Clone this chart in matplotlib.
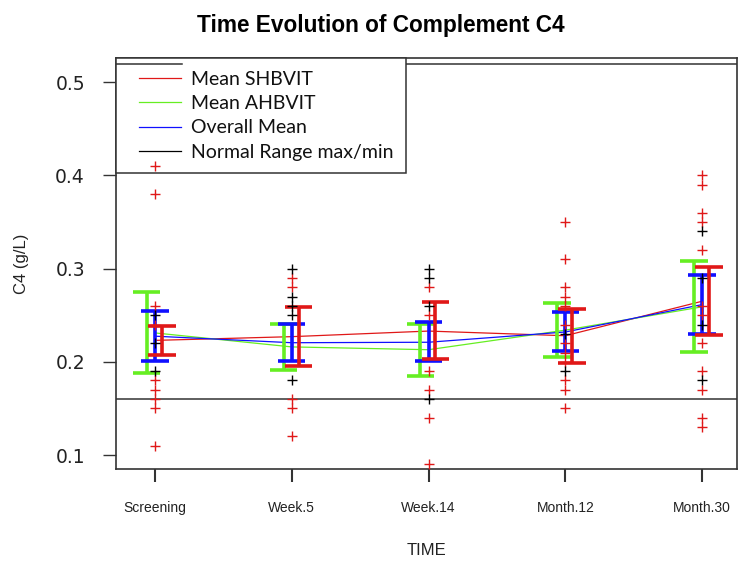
import matplotlib
matplotlib.use("Agg")
import numpy as np
import matplotlib.pyplot as plt
from matplotlib.lines import Line2D
from matplotlib.legend_handler import HandlerLine2D

# ---- data ----
times = ["Screening", "Week.5", "Week.14", "Month.12", "Month.30"]

mean_shbvit = [0.223, 0.227, 0.233, 0.228, 0.265]
mean_ahbvit = [0.231, 0.216, 0.213, 0.234, 0.259]
mean_overall = [0.2275, 0.2205, 0.221, 0.232, 0.2614]

shb_low = [0.2076, 0.1955, 0.2033, 0.1984, 0.2284]
shb_high = [0.2387, 0.2585, 0.2645, 0.2570, 0.3020]
ahb_low = [0.1877, 0.1909, 0.1851, 0.2048, 0.2105]
ahb_high = [0.2750, 0.2409, 0.2406, 0.2630, 0.3078]
all_low = [0.2009, 0.2009, 0.2012, 0.2116, 0.2298]
all_high = [0.2540, 0.2402, 0.2427, 0.2530, 0.2930]

normal_max = 0.52
normal_min = 0.16

red_pts = [
    [0.41, 0.38, 0.26, 0.24, 0.18, 0.17, 0.16, 0.15, 0.11],
    [0.29, 0.28, 0.16, 0.15, 0.12],
    [0.28, 0.25, 0.19, 0.17, 0.14, 0.09],
    [0.35, 0.31, 0.28, 0.27, 0.26, 0.24, 0.22, 0.21, 0.20, 0.18, 0.17, 0.15],
    [0.40, 0.39, 0.36, 0.35, 0.32, 0.26, 0.25, 0.22, 0.19, 0.17, 0.14, 0.13],
]
black_pts = [
    [0.25, 0.22, 0.19],
    [0.30, 0.27, 0.26, 0.25, 0.18],
    [0.30, 0.29, 0.26, 0.16],
    [0.23, 0.19],
    [0.34, 0.29, 0.24, 0.18],
]

yticks = [0.1, 0.2, 0.3, 0.4, 0.5]

# ---- style ----
RED = "#e01818"
GREEN = "#66ee22"
BLUE = "#1010ff"
font = "Liberation Sans"

fig = plt.figure(figsize=(7.49, 5.62), dpi=100)
ax = fig.add_axes([116 / 749, 1 - 469 / 562, (737 - 116) / 749, (469 - 58) / 562])

x = list(range(1, len(times) + 1))

# points
for i, xi in enumerate(x):
    ax.plot([xi] * len(red_pts[i]), red_pts[i], ls="none", marker="+",
            ms=7, mew=1.0, color=RED, zorder=7)
    ax.plot([xi] * len(black_pts[i]), black_pts[i], ls="none", marker="+",
            ms=7, mew=1.0, color="black", zorder=7)

# mean lines
ax.plot(x, mean_shbvit, color=RED, lw=0.9, zorder=2)
ax.plot(x, mean_ahbvit, color=GREEN, lw=0.9, zorder=2)
ax.plot(x, mean_overall, color=BLUE, lw=0.9, zorder=2)

# error bars
def bars(offset, lows, highs, color):
    for xi, lo, hi in zip(x, lows, highs):
        xc = xi + offset
        ax.plot([xc, xc], [lo, hi], color=color, lw=2.6, solid_capstyle="butt", zorder=3)
        for v in (lo, hi):
            ax.plot([xc - 0.1, xc + 0.1], [v, v], color=color, lw=2.6,
                    solid_capstyle="butt", zorder=3)

bars(-0.06, ahb_low, ahb_high, GREEN)
bars(0.0, all_low, all_high, BLUE)
bars(0.05, shb_low, shb_high, RED)

# normal range lines
ax.axhline(normal_max, color="#333333", lw=1.1, zorder=1)
ax.axhline(normal_min, color="#333333", lw=1.1, zorder=1)

ax.set_xlim(0.715, 5.255)
ax.set_ylim(0.085, 0.526)
ax.set_yticks(yticks)
ax.set_yticklabels([f"{t:.1f}" for t in yticks], fontsize=13.5, family="DejaVu Sans",
                   color="#222222")
ax.set_xticks(x)
ax.set_xticklabels(times, fontsize=10, family=font, color="#222222")
ax.tick_params(axis="y", length=9.4, width=1, pad=13, color="#333333")
ax.tick_params(axis="x", length=9, width=1.5, pad=14, color="#333333")
for s in ax.spines.values():
    s.set_linewidth(1.2)
    s.set_color("#333333")

ax.set_ylabel("C4 (g/L)", fontsize=12, family=font, labelpad=19, color="#222222")
ax.set_xlabel("TIME", fontsize=12, family=font, labelpad=20, color="#222222")
fig.text(0.509, 0.975, "Time Evolution of Complement C4", ha="center", va="top",
         fontsize=16.3, fontweight="bold", family=font)


class ShortLine(HandlerLine2D):
    """Draw legend line only over the right part of the handle box."""
    def get_xdata(self, legend, xdescent, ydescent, width, height, fontsize):
        seg = 30.0  # points
        xd = np.array([-xdescent + width - seg, -xdescent + width])
        return xd, xd


handles = [
    Line2D([], [], color=RED, lw=0.9),
    Line2D([], [], color=GREEN, lw=0.9),
    Line2D([], [], color=BLUE, lw=0.9),
    Line2D([], [], color="black", lw=0.9),
]
labels = ["Mean SHBVIT", "Mean AHBVIT", "Overall Mean", "Normal Range max/min"]
leg = ax.legend(handles, labels, loc="upper left", borderaxespad=0, fancybox=False,
                framealpha=1, edgecolor="#333333", prop={"family": "Lato", "size": 14},
                handlelength=2.7, handletextpad=0.5, labelspacing=0.38, borderpad=0.65,
                handler_map={Line2D: ShortLine()})
for t in leg.get_texts():
    t.set_color("#111111")
leg.get_frame().set_linewidth(1.1)
leg.set_zorder(5)
# short visible piece of the normal max line at the legend's top-left
ax.axhline(normal_max, xmin=0, xmax=0.106, color="#333333", lw=1.1, zorder=6)

fig.savefig("out.png", dpi=100)
